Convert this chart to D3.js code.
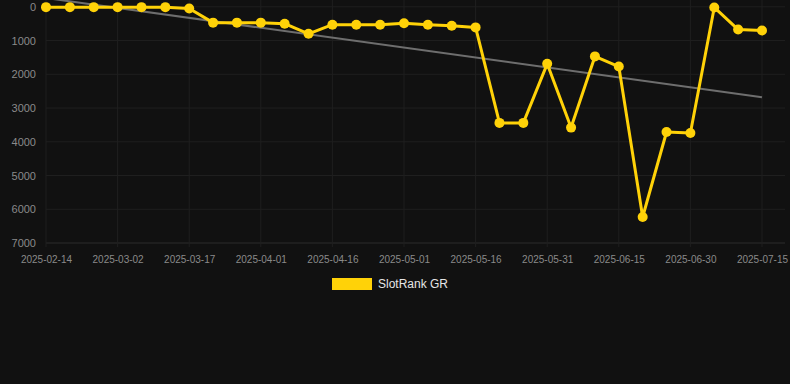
<!DOCTYPE html>
<html>
<head>
<meta charset="utf-8">
<script src="https://cdn.jsdelivr.net/npm/d3@7"></script>
<style>
  html, body { margin: 0; padding: 0; background: #111111; }
  svg { display: block; font-family: "Liberation Sans", Arial, sans-serif; }
</style>
</head>
<body>
<div id="chart"></div>
<script>
// dates on the category axis (only every third one is labelled)
const dates = [
  '2025-02-14', '2025-02-19', '2025-02-24', '2025-03-02', '2025-03-07', '2025-03-12',
  '2025-03-17', '2025-03-22', '2025-03-27', '2025-04-01', '2025-04-06', '2025-04-11',
  '2025-04-16', '2025-04-21', '2025-04-26', '2025-05-01', '2025-05-06', '2025-05-11',
  '2025-05-16', '2025-05-21', '2025-05-26', '2025-05-31', '2025-06-05', '2025-06-10',
  '2025-06-15', '2025-06-20', '2025-06-25', '2025-06-30', '2025-07-05', '2025-07-10',
  '2025-07-15'
];
const rankGR = [
  10, 10, 10, 10, 10, 10, 50, 470, 470, 470, 500, 800,
  530, 530, 530, 490, 530, 560, 610, 3440, 3440, 1690, 3580, 1470,
  1770, 6230, 3710, 3740, 20, 675, 705
];
// trend line end values (first and last category)
const trendValues = [-260, 2680];
const yTicks = [0, 1000, 2000, 3000, 4000, 5000, 6000, 7000];

const width = 790, height = 384;
const margin = { top: 6, right: 5, bottom: 141, left: 46 };
const plotRight = 762;

const svg = d3.select('#chart').append('svg')
  .attr('width', width)
  .attr('height', height)
  .style('background', '#111111');

const x = d3.scalePoint()
  .domain(dates)
  .range([margin.left, plotRight]);

const y = d3.scaleLinear()
  .domain([0, 7000])
  .range([margin.top + 0.8, height - margin.bottom]);

// grid
const grid = svg.append('g');
grid.selectAll('.hgrid')
  .data(yTicks)
  .enter()
  .append('line')
  .attr('x1', margin.left)
  .attr('x2', width - margin.right)
  .attr('y1', d => y(d))
  .attr('y2', d => y(d))
  .attr('stroke', d => d === 7000 ? '#2c2c2c' : '#1f1f1f')
  .attr('stroke-width', 1);

const labelled = dates.filter((d, i) => i % 3 === 0);
grid.selectAll('.vgrid')
  .data(labelled)
  .enter()
  .append('line')
  .attr('x1', d => x(d))
  .attr('x2', d => x(d))
  .attr('y1', margin.top - 6)
  .attr('y2', y(7000) + 4)
  .attr('stroke', '#1f1f1f')
  .attr('stroke-width', 1);

// y axis
const yAxis = svg.append('g')
  .attr('transform', `translate(${margin.left - 7},0)`)
  .call(d3.axisLeft(y).tickValues(yTicks).tickSize(0).tickFormat(d3.format('d')));
yAxis.select('.domain').remove();
yAxis.selectAll('text')
  .attr('fill', '#8a8a8a')
  .attr('font-size', '11px');

// x axis
const xAxis = svg.append('g')
  .attr('transform', `translate(0,${y(7000) + 10})`)
  .call(d3.axisBottom(x).tickValues(labelled).tickSize(0));
xAxis.select('.domain').remove();
xAxis.selectAll('text')
  .attr('fill', '#8a8a8a')
  .attr('font-size', '10px');

// trend line
svg.append('line')
  .attr('x1', x(dates[0]))
  .attr('x2', x(dates[dates.length - 1]))
  .attr('y1', y(trendValues[0]))
  .attr('y2', y(trendValues[1]))
  .attr('stroke', '#6e6e6e')
  .attr('stroke-width', 2);

// series
const line = d3.line()
  .x((d, i) => x(dates[i]))
  .y(d => y(d));

svg.append('path')
  .datum(rankGR)
  .attr('d', line)
  .attr('fill', 'none')
  .attr('stroke', '#FFD208')
  .attr('stroke-width', 3)
  .attr('stroke-linejoin', 'round');

svg.selectAll('.dot')
  .data(rankGR)
  .enter()
  .append('circle')
  .attr('cx', (d, i) => x(dates[i]))
  .attr('cy', d => y(d))
  .attr('r', 5)
  .attr('fill', '#FFD208');

// legend
const legend = svg.append('g').attr('transform', 'translate(332,278)');
legend.append('rect')
  .attr('width', 40)
  .attr('height', 12)
  .attr('fill', '#FFD208');
legend.append('text')
  .attr('x', 46)
  .attr('y', 6)
  .attr('dy', '0.35em')
  .attr('fill', '#e6e6e6')
  .attr('font-size', '12px')
  .text('SlotRank GR');
</script>
</body>
</html>
